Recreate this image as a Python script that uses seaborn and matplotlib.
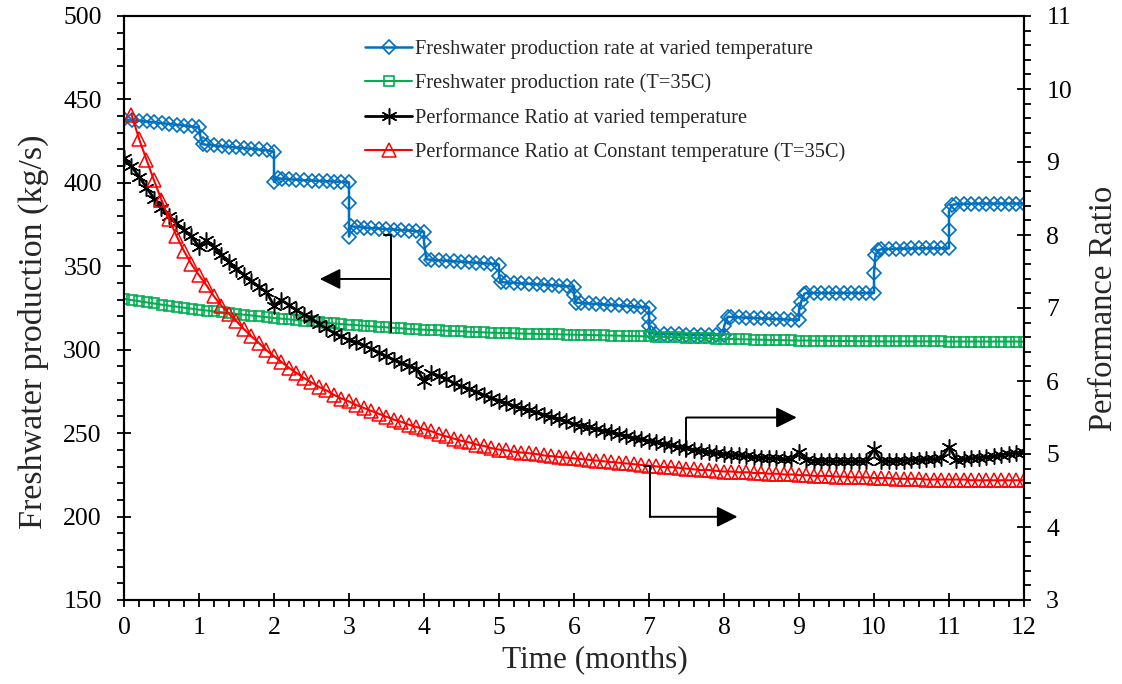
import numpy as np
import pandas as pd
import matplotlib
matplotlib.use("Agg")
import matplotlib.pyplot as plt
from matplotlib.ticker import MultipleLocator
import seaborn as sns

# ---------------- data ----------------
# Freshwater production rate at varied temperature (kg/s) - staircase
blue_t = [0.0, 0.1, 0.2, 0.3, 0.4, 0.5, 0.6, 0.7, 0.8, 0.9,
          1.0, 1.02, 1.05, 1.1, 1.2, 1.3, 1.4, 1.5, 1.6, 1.7, 1.8, 1.9,
          2.0, 2.0, 2.05, 2.1, 2.2, 2.3, 2.4, 2.5, 2.6, 2.7, 2.8, 2.9,
          3.0, 3.0, 3.0, 3.02, 3.1, 3.2, 3.3, 3.4, 3.5, 3.6, 3.7, 3.8, 3.9,
          4.0, 4.0, 4.03, 4.1, 4.2, 4.3, 4.4, 4.5, 4.6, 4.7, 4.8, 4.9,
          5.0, 5.0, 5.03, 5.1, 5.2, 5.3, 5.4, 5.5, 5.6, 5.7, 5.8, 5.9,
          6.0, 6.0, 6.03, 6.1, 6.2, 6.3, 6.4, 6.5, 6.6, 6.7, 6.8, 6.9,
          7.0, 7.0, 7.0, 7.03, 7.1, 7.2, 7.3, 7.4, 7.5, 7.6, 7.7, 7.8, 7.9,
          8.0, 8.0, 8.05, 8.1, 8.2, 8.3, 8.4, 8.5, 8.6, 8.7, 8.8, 8.9,
          9.0, 9.0, 9.03, 9.07, 9.1, 9.2, 9.3, 9.4, 9.5, 9.6, 9.7, 9.8, 9.9,
          10.0, 10.0, 10.02, 10.06, 10.1, 10.2, 10.3, 10.4, 10.5, 10.6, 10.7, 10.8, 10.9,
          11.0, 11.0, 11.0, 11.04, 11.1, 11.2, 11.3, 11.4, 11.5, 11.6, 11.7, 11.8, 11.9, 12.0]
blue_v = [438.0, 437.6, 437.2, 436.8, 436.3, 435.8, 435.3, 434.8, 434.3, 433.8,
          433.3, 427.5, 423.2, 422.8, 422.4, 422.0, 421.6, 421.2, 420.8, 420.4, 420.0, 419.6,
          418.5, 400.5, 402.8, 402.5, 402.2, 401.9, 401.6, 401.4, 401.2, 401.0, 400.8, 400.6,
          400.3, 388.0, 367.8, 374.0, 373.6, 373.2, 372.9, 372.6, 372.3, 372.0, 371.7, 371.4, 371.1,
          370.6, 364.5, 354.2, 353.9, 353.6, 353.3, 353.0, 352.7, 352.4, 352.1, 351.8, 351.5,
          351.0, 344.0, 340.5, 340.3, 340.0, 339.8, 339.5, 339.2, 339.0, 338.7, 338.4, 338.1,
          337.8, 332.8, 328.2, 328.0, 327.7, 327.4, 327.1, 326.8, 326.5, 326.2, 325.9, 325.6,
          325.2, 319.0, 314.0, 310.0, 309.5, 309.4, 309.3, 309.2, 309.1, 309.0, 309.0, 309.0, 309.0,
          309.0, 314.0, 319.8, 319.6, 319.4, 319.2, 319.0, 318.8, 318.6, 318.4, 318.2, 318.0,
          317.8, 324.0, 328.8, 333.5, 334.0, 334.0, 334.0, 334.0, 334.0, 334.0, 334.0, 334.0, 334.0,
          334.0, 345.8, 356.8, 359.8, 360.2, 360.4, 360.5, 360.6, 360.7, 360.8, 360.8, 360.8, 360.8,
          360.8, 372.0, 383.0, 386.8, 387.2, 387.4, 387.5, 387.6, 387.6, 387.6, 387.6, 387.6, 387.6, 387.5]

# monthly sampling grid (every 0.1 month)
grid_t = [round(i * 0.1, 1) for i in range(121)]

# Freshwater production rate (T=35C), kg/s
green_v = [330.5, 329.8, 329.1, 328.4, 327.7, 327.0, 326.4, 325.8, 325.2, 324.6,
           324.0, 323.5, 323.0, 322.5, 322.0, 321.5, 321.0, 320.5, 320.0, 319.5,
           319.0, 318.6, 318.2, 317.8, 317.4, 317.0, 316.6, 316.2, 315.8, 315.4,
           315.0, 314.7, 314.4, 314.0, 313.7, 313.4, 313.1, 312.8, 312.5, 312.2,
           312.0, 311.8, 311.6, 311.4, 311.2, 311.0, 310.8, 310.6, 310.4, 310.2,
           310.1, 310.0, 309.8, 309.7, 309.6, 309.5, 309.4, 309.3, 309.2, 309.1,
           309.0, 308.9, 308.8, 308.7, 308.6, 308.5, 308.4, 308.3, 308.2, 308.1,
           308.0, 307.8, 307.7, 307.5, 307.4, 307.2, 307.1, 306.9, 306.8, 306.6,
           306.5, 306.4, 306.3, 306.2, 306.1, 306.0, 305.9, 305.8, 305.7, 305.6,
           305.5, 305.5, 305.4, 305.4, 305.3, 305.3, 305.2, 305.2, 305.1, 305.1,
           305.0, 305.0, 305.0, 305.0, 305.0, 305.0, 305.0, 305.0, 305.0, 305.0,
           304.9, 304.9, 304.9, 304.9, 304.9, 304.9, 304.9, 304.9, 304.9, 304.9,
           304.8]

# Performance Ratio at varied temperature
black_v = [9.05, 8.94, 8.80, 8.65, 8.50, 8.37, 8.26, 8.16, 8.07, 7.98,
           7.84, 7.93, 7.83, 7.73, 7.63, 7.54, 7.45, 7.37, 7.29, 7.22,
           7.03, 7.11, 7.04, 6.97, 6.91, 6.86, 6.78, 6.72, 6.66, 6.61,
           6.56, 6.53, 6.49, 6.44, 6.39, 6.34, 6.29, 6.25, 6.21, 6.17,
           6.00, 6.11, 6.07, 6.03, 5.97, 5.93, 5.89, 5.85, 5.81, 5.77,
           5.73, 5.70, 5.66, 5.63, 5.60, 5.57, 5.54, 5.51, 5.48, 5.45,
           5.41, 5.39, 5.37, 5.34, 5.32, 5.30, 5.27, 5.25, 5.22, 5.20,
           5.18, 5.16, 5.14, 5.12, 5.10, 5.08, 5.06, 5.04, 5.03, 5.01,
           5.00, 4.99, 4.98, 4.97, 4.96, 4.95, 4.94, 4.94, 4.93, 4.93,
           5.03, 4.92, 4.91, 4.91, 4.90, 4.90, 4.90, 4.90, 4.90, 4.90,
           5.07, 4.90, 4.90, 4.91, 4.91, 4.92, 4.92, 4.93, 4.93, 4.94,
           5.10, 4.92, 4.93, 4.94, 4.95, 4.96, 4.97, 4.99, 5.00, 5.02,
           5.03]

# Performance Ratio at constant temperature (T=35C), starts at 0.1 month
red_v = [9.65, 9.32, 9.03, 8.75, 8.48, 8.22, 7.99, 7.78, 7.60,
         7.45, 7.31, 7.16, 7.03, 6.92, 6.82, 6.71, 6.61, 6.52, 6.42,
         6.34, 6.26, 6.18, 6.11, 6.04, 5.98, 5.92, 5.87, 5.81, 5.76,
         5.72, 5.67, 5.63, 5.59, 5.55, 5.51, 5.47, 5.44, 5.40, 5.37,
         5.34, 5.31, 5.27, 5.24, 5.21, 5.18, 5.16, 5.13, 5.11, 5.08,
         5.06, 5.05, 5.03, 5.02, 5.01, 5.00, 4.98, 4.97, 4.96, 4.95,
         4.94, 4.93, 4.92, 4.91, 4.90, 4.89, 4.88, 4.87, 4.86, 4.85,
         4.84, 4.83, 4.82, 4.82, 4.81, 4.80, 4.79, 4.78, 4.78, 4.77,
         4.76, 4.76, 4.75, 4.75, 4.74, 4.74, 4.73, 4.73, 4.72, 4.72,
         4.71, 4.71, 4.70, 4.70, 4.70, 4.69, 4.69, 4.68, 4.68, 4.68,
         4.67, 4.67, 4.67, 4.66, 4.66, 4.66, 4.66, 4.65, 4.65, 4.65,
         4.65, 4.65, 4.65, 4.64, 4.64, 4.64, 4.64, 4.64, 4.64, 4.64,
         4.64]
red_t = grid_t[1:]

labels = ["Freshwater production rate at varied temperature",
          "Freshwater production rate (T=35C)",
          "Performance Ratio at varied temperature",
          "Performance Ratio at Constant temperature (T=35C)"]

# ---------------- style ----------------
sns.set_theme(style="white")
plt.rcParams["font.family"] = ["Liberation Serif", "DejaVu Serif"]

BLUE, GREEN, BLACK, RED = "#0070C0", "#00B050", "#000000", "#FF0000"

fig = plt.figure(figsize=(11.22, 6.84), dpi=100)
ax = fig.add_axes([124 / 1122, 1 - 600 / 684, 900 / 1122, 584 / 684])
ax2 = ax.twinx()

df_blue = pd.DataFrame({"t": blue_t, "v": blue_v})
df_green = pd.DataFrame({"t": grid_t, "v": green_v})
df_black = pd.DataFrame({"t": grid_t, "v": black_v})
df_red = pd.DataFrame({"t": red_t, "v": red_v})

sns.lineplot(data=df_blue, x="t", y="v", ax=ax, estimator=None, sort=False,
             color=BLUE, linewidth=1.8, marker="D", markersize=7.3,
             markerfacecolor="none", markeredgecolor=BLUE, markeredgewidth=1.2,
             label=labels[0])
sns.lineplot(data=df_green, x="t", y="v", ax=ax, estimator=None, sort=False,
             color=GREEN, linewidth=1.5, marker="s", markersize=7.3,
             markerfacecolor="none", markeredgecolor=GREEN, markeredgewidth=1.2,
             label=labels[1])
sns.lineplot(data=df_black, x="t", y="v", ax=ax2, estimator=None, sort=False,
             color=BLACK, linewidth=2.0, marker=(6, 2, 0), markersize=11.5,
             markerfacecolor="none", markeredgecolor=BLACK, markeredgewidth=1.1,
             label=labels[2])
sns.lineplot(data=df_red, x="t", y="v", ax=ax2, estimator=None, sort=False,
             color=RED, linewidth=1.5, marker="^", markersize=10,
             markerfacecolor="none", markeredgecolor=RED, markeredgewidth=1.1,
             label=labels[3])

for a in (ax, ax2):
    if a.get_legend() is not None:
        a.get_legend().remove()

# ---------------- axes ----------------
ax.set_xlim(0, 12)
ax.set_ylim(150, 500)
ax2.set_ylim(3, 11)
ax.xaxis.set_major_locator(MultipleLocator(1))
ax.xaxis.set_minor_locator(MultipleLocator(0.2))
ax.yaxis.set_major_locator(MultipleLocator(50))
ax.yaxis.set_minor_locator(MultipleLocator(10))
ax2.yaxis.set_major_locator(MultipleLocator(1))
ax2.yaxis.set_minor_locator(MultipleLocator(0.2))

ax.set_xlabel("Time (months)", fontsize=22.5)
ax.set_ylabel("Freshwater production (kg/s)", fontsize=24.5)
ax2.set_ylabel("Performance Ratio", fontsize=23.5, labelpad=12)
ax.xaxis.set_label_coords(0.523, -0.077)
ax.yaxis.set_label_coords(-0.083, 0.46)

ax.tick_params(axis="both", which="major", direction="inout", length=10, width=1.3,
               labelsize=18.5, color="black", labelcolor="black")
ax.tick_params(axis="both", which="minor", direction="out", length=5, width=1.3, color="black")
ax.tick_params(axis="x", which="both", top=False, bottom=True)
ax.tick_params(axis="y", which="both", left=True, right=False)
ax.tick_params(axis="y", which="major", pad=11)
ax.tick_params(axis="x", which="major", pad=7)
ax2.tick_params(axis="y", which="major", direction="inout", length=10, width=1.3,
                labelsize=18.5, pad=11, color="black", labelcolor="black")
ax2.tick_params(axis="y", which="minor", direction="out", length=5, width=1.3, color="black")

for a in (ax, ax2):
    for s in a.spines.values():
        s.set_color("black")
        s.set_linewidth(1.5)
        s.set_visible(True)
ax.grid(False)
ax2.grid(False)

# ---------------- annotation arrows ----------------
arrow_kw = dict(arrowstyle="-|>,head_length=0.9,head_width=0.45", color="black",
                lw=1.4, mutation_scale=14, shrinkA=0, shrinkB=0)
# arrow pointing to left axis
ax.plot([3.47, 3.56, 3.56], [368.8, 368.8, 310.7], color="black", lw=1.4)
ax.annotate("", xy=(2.61, 342.4), xytext=(3.56, 342.4), arrowprops=arrow_kw)
# arrow from black series to right axis
ax2.plot([7.5, 7.5], [4.96, 5.5], color="black", lw=1.4)
ax2.annotate("", xy=(8.97, 5.5), xytext=(7.5, 5.5), arrowprops=arrow_kw)
# arrow from red series to right axis
ax2.plot([6.93, 7.01, 7.01], [4.83, 4.83, 4.14], color="black", lw=1.4)
ax2.annotate("", xy=(8.18, 4.14), xytext=(7.01, 4.14), arrowprops=arrow_kw)

# ---------------- legend ----------------
h1, l1 = ax.get_legend_handles_labels()
h2, l2 = ax2.get_legend_handles_labels()
ax2.legend(h1 + h2, l1 + l2, loc="upper left", bbox_to_anchor=(0.268, 0.96),
           frameon=False, fontsize=14.7, handlelength=2.3, handletextpad=0.15,
           labelspacing=0.72, borderpad=0, borderaxespad=0)

fig.savefig("out.png", dpi=100)
